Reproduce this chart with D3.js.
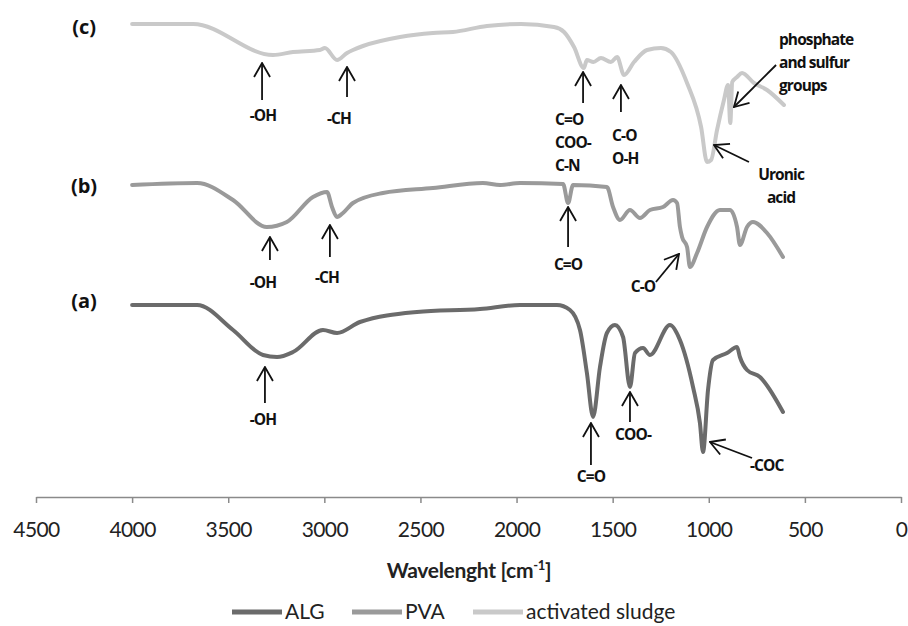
<!DOCTYPE html>
<html>
<head>
<meta charset="utf-8">
<script src="https://cdn.jsdelivr.net/npm/d3@7/dist/d3.min.js"></script>
<style>
  html, body { margin: 0; padding: 0; background: #fff; }
  svg { display: block; font-family: Lato, "Open Sans", sans-serif; }
</style>
</head>
<body>
<svg id="chart" width="908" height="626"></svg>
<script>
// ---------- DATA ----------
const tickValues = [4500, 4000, 3500, 3000, 2500, 2000, 1500, 1000, 500, 0];
const seriesNames = ["ALG", "PVA", "activated sludge"];
const seriesTags = ["(a)", "(b)", "(c)"];

// [wavenumber cm-1, transmittance (a.u., offset)]
const sludge = [
  [4000,95.2],[3683,95.2],[3267,89.0],[3163,89.6],[3023,90.0],[2997,90.4],[2934,88.0],
  [2882,89.4],[2851,90.0],[2799,90.8],[2606,92.6],[2435,93.4],[2331,93.6],[2154,94.8],
  [1977,95.2],[1805,94.6],[1753,93.6],[1701,90.6],[1650,86.4],[1634,88.0],[1600,87.6],
  [1561,88.4],[1509,87.6],[1477,88.6],[1441,85.0],[1389,87.6],[1321,90.0],[1249,90.4],
  [1197,89.6],[1113,83.4],[1040,74.6],[1009,67.6],[988,68.0],[957,74.0],[921,80.0],
  [900,83.0],[888,75.4],[878,83.6],[853,84.6],[827,85.4],[765,83.4],[697,82.0],[609,79.0]
];
const pva = [
  [4000,63.0],[3662,63.4],[3475,60.0],[3299,54.6],[3195,55.6],[3059,60.6],[2986,61.6],
  [2960,58.6],[2934,56.6],[2903,57.4],[2851,59.4],[2695,61.4],[2435,62.4],[2175,63.4],
  [2086,63.0],[1982,63.4],[1758,63.2],[1732,59.4],[1706,63.0],[1530,62.6],[1498,58.6],
  [1462,56.0],[1410,58.0],[1358,56.4],[1306,58.0],[1238,58.6],[1186,60.0],[1165,59.4],
  [1150,54.6],[1139,52.6],[1113,50.6],[1098,46.6],[1061,49.4],[1009,54.6],[942,58.0],
  [890,58.0],[853,54.6],[838,51.0],[801,54.6],[770,55.6],[697,53.4],[614,48.6]
];
const alg = [
  [4000,39.0],[3662,39.0],[3475,34.0],[3319,29.0],[3246,28.6],[3163,29.6],[3007,34.0],
  [2934,33.4],[2815,35.6],[2518,37.6],[2190,38.2],[1982,39.0],[1790,39.0],[1722,38.0],
  [1670,34.0],[1634,25.4],[1602,16.6],[1566,26.6],[1530,33.4],[1488,35.0],[1446,32.6],
  [1410,22.6],[1384,29.4],[1342,30.4],[1306,29.0],[1202,35.0],[1150,32.0],[1082,22.6],
  [1046,15.4],[1030,9.6],[1004,22.0],[978,28.0],[905,29.4],[853,30.6],[838,28.6],
  [801,26.0],[734,24.6],[614,17.6]
];

// tag label anchor [wavenumber, value]
const tagPos = [[4250,39.8],[4250,62.8],[4250,94.6]];

// annotations: arrow tail [w,v], arrow head [w,v], label lines, label anchor [w,v], text-anchor
const annotations = [
  {from:[3324,80.0], to:[3324,87.4], lines:["-OH"], at:[3319,76.8], anchor:"middle"},
  {from:[2882,80.6], to:[2882,86.6], lines:["-CH"], at:[2924,76.2], anchor:"middle"},
  {from:[1654,79.4], to:[1654,85.6], lines:["C=O","COO-","C-N"], at:[1800,76.0], anchor:"start"},
  {from:[1457,77.6], to:[1457,83.0], lines:["C-O","O-H"], at:[1503,72.8], anchor:"start"},
  {from:[650,87.0], to:[869,78.6], lines:["phosphate","and sulfur","groups"], at:[635,92.0], anchor:"start"},
  {from:[791,67.6], to:[973,71.0], lines:["Uronic","acid"], at:[624,65.0], anchor:"middle"},
  {from:[3283,48.0], to:[3283,52.6], lines:["-OH"], at:[3319,43.4], anchor:"middle"},
  {from:[2971,48.6], to:[2971,55.0], lines:["-CH"], at:[2986,44.4], anchor:"middle"},
  {from:[1732,50.6], to:[1732,58.6], lines:["C=O"], at:[1732,47.0], anchor:"middle"},
  {from:[1275,43.6], to:[1155,49.2], lines:["C-O"], at:[1342,42.6], anchor:"middle"},
  {from:[3309,19.4], to:[3309,26.6], lines:["-OH"], at:[3319,16.0], anchor:"middle"},
  {from:[1613,7.0], to:[1613,15.4], lines:["C=O"], at:[1613,4.6], anchor:"middle"},
  {from:[1410,15.6], to:[1410,21.6], lines:["COO-"], at:[1394,13.0], anchor:"middle"},
  {from:[775,8.4], to:[994,11.6], lines:["-COC"], at:[786,6.8], anchor:"start"}
];

// ---------- DRAW ----------
const svg = d3.select("#chart");
const colors = ["#6b6b6b", "#9a9a9a", "#c9c9c9"];
const series = [alg, pva, sludge];

const x = d3.scaleLinear().domain([4500, 0]).range([36, 901]);
const y = d3.scaleLinear().domain([0, 100]).range([500, 0]);
const axisY = 497;

svg.append("defs").append("marker")
  .attr("id", "arr")
  .attr("viewBox", "0 0 16 18")
  .attr("refX", 15).attr("refY", 9)
  .attr("markerWidth", 16).attr("markerHeight", 18)
  .attr("markerUnits", "userSpaceOnUse")
  .attr("orient", "auto")
  .append("path")
  .attr("d", "M1,1 L15,9 L1,17")
  .attr("fill", "none").attr("stroke", "#111").attr("stroke-width", 1.8);

// axis
const axis = d3.axisBottom(x).tickValues(tickValues).tickSize(6).tickSizeOuter(0).tickFormat(d3.format("d"));
const gAxis = svg.append("g").attr("transform", `translate(0,${axisY})`).call(axis);
gAxis.select(".domain").attr("stroke", "#8a8a8a").attr("stroke-width", 1.5);
gAxis.selectAll(".tick line").attr("stroke", "#8a8a8a").attr("stroke-width", 1.5);
gAxis.selectAll(".tick text").attr("fill", "#222").attr("font-size", 21)
  .attr("font-family", "Lato, sans-serif").attr("y", 33).attr("dy", "0.35em")
  .attr("letter-spacing", -0.6);

// axis title
const title = svg.append("text").attr("x", 469).attr("y", 571).attr("dy", "0.35em")
  .attr("text-anchor", "middle").attr("font-size", 21).attr("font-weight", "bold").attr("fill", "#222")
  .attr("letter-spacing", -0.3);
title.append("tspan").text("Wavelenght [cm");
title.append("tspan").text("-1").attr("font-size", 13).attr("dy", -8);
title.append("tspan").text("]").attr("dy", 8);

// curves
const line = d3.line().x(d => x(d[0])).y(d => y(d[1])).curve(d3.curveMonotoneX);
series.forEach((s, i) => {
  svg.append("path").datum(s)
    .attr("d", line)
    .attr("fill", "none")
    .attr("stroke", colors[i])
    .attr("stroke-width", 4)
    .attr("stroke-linejoin", "round")
    .attr("stroke-linecap", "round");
});

// tags
seriesTags.forEach((t, i) => {
  svg.append("text").attr("x", x(tagPos[i][0])).attr("y", y(tagPos[i][1]))
    .attr("dy", "0.35em").attr("text-anchor", "middle")
    .attr("font-family", "'Open Sans', sans-serif")
    .attr("font-size", 20).attr("font-weight", "bold").attr("fill", "#111").text(t);
});

// annotations
annotations.forEach(a => {
  svg.append("line")
    .attr("x1", x(a.from[0])).attr("y1", y(a.from[1]))
    .attr("x2", x(a.to[0])).attr("y2", y(a.to[1]))
    .attr("stroke", "#111").attr("stroke-width", 1.8)
    .attr("marker-end", "url(#arr)");
  const lh = 23;
  a.lines.forEach((l, k) => {
    svg.append("text")
      .attr("x", x(a.at[0])).attr("y", y(a.at[1]) + k * lh)
      .attr("dy", "0.35em").attr("text-anchor", a.anchor)
      .attr("font-family", "'Open Sans', sans-serif")
      .attr("font-size", 15.5).attr("font-weight", "bold").attr("fill", "#111")
      .attr("letter-spacing", -0.9)
      .text(l);
  });
});

// legend
const legX = [232, 352, 473];
const legY = 612;
const legG = svg.append("g");
seriesNames.forEach((n, i) => {
  legG.append("line").attr("x1", legX[i]).attr("x2", legX[i] + 50)
    .attr("y1", legY).attr("y2", legY)
    .attr("stroke", colors[i]).attr("stroke-width", 5);
  legG.append("text").attr("x", legX[i] + 53).attr("y", legY).attr("dy", "0.35em")
    .attr("font-size", 21).attr("fill", "#222").text(n);
});
</script>
</body>
</html>
